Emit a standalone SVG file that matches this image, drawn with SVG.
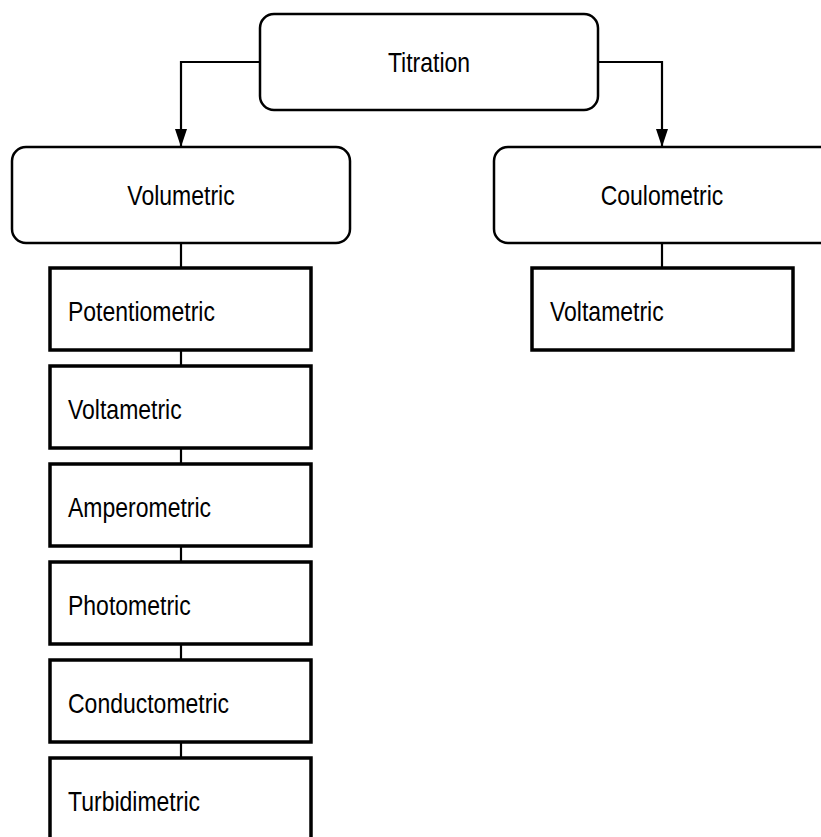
<svg xmlns="http://www.w3.org/2000/svg" width="821" height="837" viewBox="0 0 821 837">
<style>
.rb{fill:#fff;stroke:#000;stroke-width:2.5}
.sb{fill:#fff;stroke:#000;stroke-width:3.5}
.t{font-family:"Liberation Sans",Arial,sans-serif;font-size:23px;fill:#000}
.c{fill:none;stroke:#000;stroke-width:2.2}
</style>
<defs>
<marker id="ah" markerWidth="18" markerHeight="12" refX="18" refY="6" orient="auto" markerUnits="userSpaceOnUse" viewBox="0 0 18 12">
<path d="M0,0 L18,6 L0,12 Z" fill="#000"/>
</marker>
</defs>
<rect width="821" height="837" fill="#fff"/>
<g id="connectors">
<path class="c" d="M260,62 H181 V147" marker-end="url(#ah)"/>
<path class="c" d="M598,62 H662 V147" marker-end="url(#ah)"/>
<path class="c" d="M181,243 V268 M181,350 V366 M181,448 V464 M181,546 V562 M181,644 V660 M181,742 V758"/>
<path class="c" d="M662,243 V268"/>
</g>
<g id="titration">
<rect class="rb" x="260" y="14" width="338" height="96" rx="14"/>
<text class="t" text-anchor="middle" transform="translate(429,72) scale(1,1.22)">Titration</text>
</g>
<g id="volumetric">
<rect class="rb" x="12" y="147" width="338" height="96" rx="14"/>
<text class="t" text-anchor="middle" transform="translate(181,205) scale(1,1.22)">Volumetric</text>
</g>
<g id="coulometric">
<rect class="rb" x="494" y="147" width="340" height="96" rx="14"/>
<text class="t" text-anchor="middle" transform="translate(662,205) scale(1,1.22)">Coulometric</text>
</g>
<g id="potentiometric">
<rect class="sb" x="50" y="268" width="261" height="82"/>
<text class="t" transform="translate(68,321) scale(1,1.22)">Potentiometric</text>
</g>
<g id="voltametric1">
<rect class="sb" x="50" y="366" width="261" height="82"/>
<text class="t" transform="translate(68,419) scale(1,1.22)">Voltametric</text>
</g>
<g id="amperometric">
<rect class="sb" x="50" y="464" width="261" height="82"/>
<text class="t" transform="translate(68,517) scale(1,1.22)">Amperometric</text>
</g>
<g id="photometric">
<rect class="sb" x="50" y="562" width="261" height="82"/>
<text class="t" transform="translate(68,615) scale(1,1.22)">Photometric</text>
</g>
<g id="conductometric">
<rect class="sb" x="50" y="660" width="261" height="82"/>
<text class="t" transform="translate(68,713) scale(1,1.22)">Conductometric</text>
</g>
<g id="turbidimetric">
<rect class="sb" x="50" y="758" width="261" height="90"/>
<text class="t" transform="translate(68,811) scale(1,1.22)">Turbidimetric</text>
</g>
<g id="voltametric2">
<rect class="sb" x="532" y="268" width="261" height="82"/>
<text class="t" transform="translate(550,321) scale(1,1.22)">Voltametric</text>
</g>
</svg>
